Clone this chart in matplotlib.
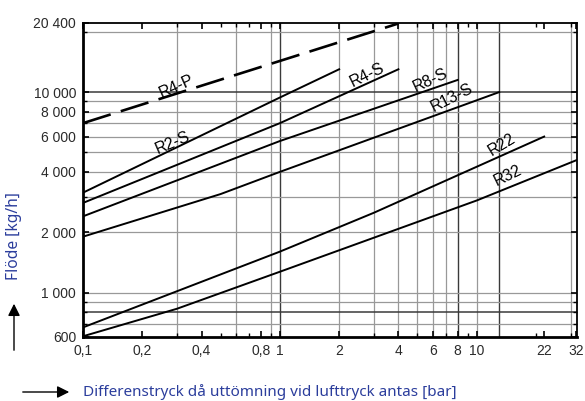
import matplotlib
matplotlib.use("Agg")
import matplotlib.pyplot as plt
from matplotlib.ticker import FixedLocator, NullFormatter

# ---------------- data ----------------
r4p_x = [0.1, 4.0]
r4p_y = [7000, 22000]

r2s_x = [0.1, 1, 2]
r2s_y = [3150, 9400, 13000]

r4s_x = [0.1, 1, 4]
r4s_y = [2800, 7000, 13000]

r8s_x = [0.1, 1, 8]
r8s_y = [2400, 5700, 11500]

r13s_x = [0.1, 0.5, 1, 13]
r13s_y = [1900, 3100, 4000, 10000]

r22_x = [0.1, 1, 3, 22]
r22_y = [670, 1600, 2500, 6000]

r32_x = [0.1, 0.3, 1, 10, 32]
r32_y = [605, 830, 1270, 2880, 4570]

series_names = ["R4-P", "R2-S", "R4-S", "R8-S", "R13-S", "R22", "R32"]
label_x = [0.299, 0.287, 2.77, 5.82, 7.49, 13.4, 14.4]
label_y = [10715, 5580, 12160, 11480, 9408, 5495, 3815]
label_rot = [24, 23, 26, 25, 27, 31, 26]

xtick_vals = [0.1, 0.2, 0.4, 0.8, 1, 2, 4, 6, 8, 10, 22, 32]
xtick_labels = ["0,1", "0,2", "0,4", "0,8", "1", "2", "4", "6", "8", "10", "22", "32"]
ytick_vals = [600, 1000, 2000, 4000, 6000, 8000, 10000, 22200]
ytick_labels = ["600", "1 000", "2 000", "4 000", "6 000", "8 000", "10 000", "20 400"]

xgrid_light = [0.3, 0.6, 0.9, 2, 3, 4, 5, 6, 7, 10, 30]
xgrid_dark = [1, 8, 13]
ygrid_light = [700, 900, 1000, 2000, 3000, 4000, 5000, 6000, 7000, 8000, 9000, 20000]
ygrid_dark = [800, 10000]

x_minor = [0.2, 0.3, 0.4, 0.5, 0.6, 0.7, 0.8, 0.9, 2, 3, 4, 5, 6, 7, 8, 9, 20, 22, 30]
y_minor = [700, 800, 900, 3000, 5000, 7000, 9000, 20000]

# ---------------- figure ----------------
fig = plt.figure(figsize=(5.85, 4.01), dpi=100)
ax = fig.add_axes([83 / 585, 1 - 337 / 401, (577 - 83) / 585, (337 - 22.7) / 401])
ax.set_xscale("log")
ax.set_yscale("log")
ax.set_xlim(0.1, 32.3)
ax.set_ylim(600, 22200)

for v in xgrid_light:
    ax.axvline(v, color="#999999", lw=0.9, zorder=1)
for v in xgrid_dark:
    ax.axvline(v, color="#3a3a3a", lw=1.0, zorder=1)
for v in ygrid_light:
    ax.axhline(v, color="#999999", lw=0.9, zorder=1)
for v in ygrid_dark:
    ax.axhline(v, color="#3a3a3a", lw=1.1, zorder=1)

lw = 1.4
ax.plot(r4p_x, r4p_y, color="black", lw=1.9, dashes=(11, 4), zorder=3)
ax.plot(r2s_x, r2s_y, color="black", lw=lw, zorder=3)
ax.plot(r4s_x, r4s_y, color="black", lw=lw, zorder=3)
ax.plot(r8s_x, r8s_y, color="black", lw=lw, zorder=3)
ax.plot(r13s_x, r13s_y, color="black", lw=lw, zorder=3)
ax.plot(r22_x, r22_y, color="black", lw=lw, zorder=3)
ax.plot(r32_x, r32_y, color="black", lw=lw, zorder=3)

for name, lx, ly, rot in zip(series_names, label_x, label_y, label_rot):
    ax.text(lx, ly, name, rotation=rot, rotation_mode="anchor", ha="center", va="center",
            fontsize=11.5, family=["Liberation Sans", "DejaVu Sans"], color="black", zorder=4)

tick_font = dict(family=["Liberation Sans", "DejaVu Sans"], size=10, color="#2a2a2a")
ax.xaxis.set_major_locator(FixedLocator(xtick_vals))
ax.set_xticklabels(xtick_labels, **tick_font)
ax.xaxis.set_minor_locator(FixedLocator(x_minor))
ax.xaxis.set_minor_formatter(NullFormatter())
ax.yaxis.set_major_locator(FixedLocator(ytick_vals))
ax.set_yticklabels(ytick_labels, **tick_font)
ax.yaxis.set_minor_locator(FixedLocator(y_minor))
ax.yaxis.set_minor_formatter(NullFormatter())

ax.tick_params(which="both", direction="in", top=True, right=True, color="black")
ax.tick_params(which="major", length=4, width=1.2, pad=5)
ax.tick_params(which="minor", length=3, width=1.0)

for s in ax.spines.values():
    s.set_linewidth(1.3)
ax.spines["left"].set_linewidth(2.0)
ax.spines["bottom"].set_linewidth(2.0)

blue = "#2b3d9c"
fig.text(14 / 585, 1 - 236 / 401, "Flöde [kg/h]", rotation=90, ha="center", va="center",
         color=blue, fontsize=11.2, family=["Noto Sans", "DejaVu Sans"])
fig.text(83 / 585, 1 - 392 / 401, "Differenstryck då uttömning vid lufttryck antas [bar]",
         ha="left", va="center", color=blue, fontsize=11, family=["Noto Sans", "DejaVu Sans"])

fig.add_artist(matplotlib.patches.FancyArrowPatch(
    (14 / 585, 1 - 353 / 401), (14 / 585, 1 - 301 / 401), transform=fig.transFigure,
    arrowstyle="-|>", mutation_scale=18, color="black", lw=1.0))
fig.add_artist(matplotlib.patches.FancyArrowPatch(
    (20 / 585, 1 - 392 / 401), (72 / 585, 1 - 392 / 401), transform=fig.transFigure,
    arrowstyle="-|>", mutation_scale=18, color="black", lw=1.0))

fig.savefig("out.png", dpi=100)
